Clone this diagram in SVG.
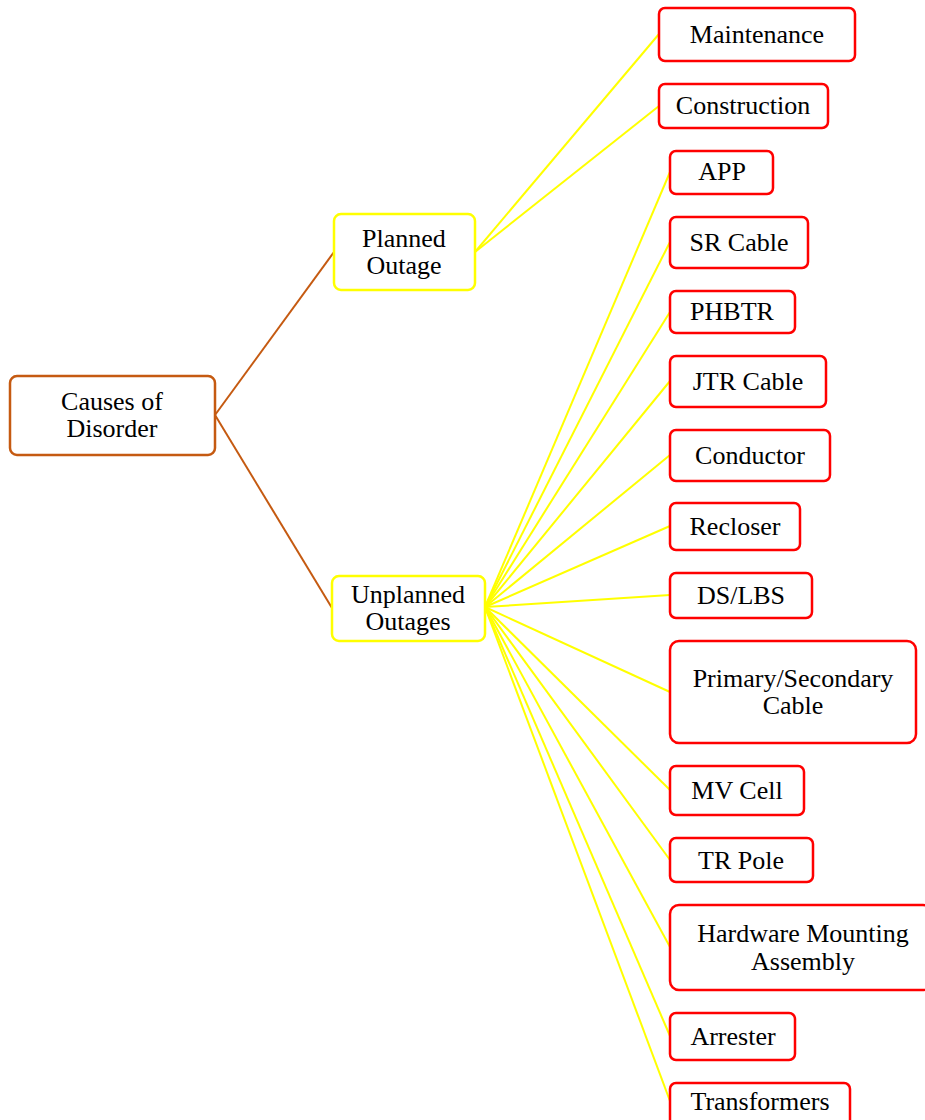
<svg xmlns="http://www.w3.org/2000/svg" width="925" height="1120" viewBox="0 0 925 1120">
<style>
rect{fill:#fff;stroke-width:2.5}
.root{stroke:#c55a11}
.mid{stroke:#ffff00}
.leaf{stroke:#ff0000}
text{font-family:"Liberation Serif","Times New Roman",serif;font-size:26px;fill:#000;text-anchor:middle}
.c1{stroke:#c55a11;stroke-width:2;fill:none}
.c2{stroke:#ffff00;stroke-width:2;fill:none}
</style>
<rect width="925" height="1120" fill="#fff" stroke="none"/>
<g id="connectors">
<line class="c1" x1="215" y1="415" x2="334" y2="252"/>
<line class="c1" x1="215" y1="415" x2="332" y2="608"/>
<line class="c2" x1="475" y1="252" x2="659" y2="34"/>
<line class="c2" x1="475" y1="252" x2="659" y2="106"/>
<line class="c2" x1="485" y1="607" x2="670" y2="172"/>
<line class="c2" x1="485" y1="607" x2="670" y2="242"/>
<line class="c2" x1="485" y1="607" x2="670" y2="312"/>
<line class="c2" x1="485" y1="607" x2="670" y2="381"/>
<line class="c2" x1="485" y1="607" x2="670" y2="455"/>
<line class="c2" x1="485" y1="607" x2="670" y2="526"/>
<line class="c2" x1="485" y1="607" x2="670" y2="595"/>
<line class="c2" x1="485" y1="607" x2="670" y2="692"/>
<line class="c2" x1="485" y1="607" x2="670" y2="790"/>
<line class="c2" x1="485" y1="607" x2="670" y2="860"/>
<line class="c2" x1="485" y1="607" x2="670" y2="947"/>
<line class="c2" x1="485" y1="607" x2="670" y2="1036"/>
<line class="c2" x1="485" y1="607" x2="670" y2="1101"/>
</g>
<g id="root"><rect class="root" x="10" y="376" width="205" height="79" rx="7"/><text x="112" y="410">Causes of</text><text x="112" y="437">Disorder</text></g>
<g id="planned"><rect class="mid" x="334" y="214" width="141" height="76" rx="7"/><text x="404" y="247">Planned</text><text x="404" y="274">Outage</text></g>
<g id="unplanned"><rect class="mid" x="332" y="576" width="153" height="65" rx="7"/><text x="408" y="603">Unplanned</text><text x="408" y="630">Outages</text></g>
<g id="maintenance"><rect class="leaf" x="659" y="8" width="196" height="53" rx="6"/><text x="757" y="43">Maintenance</text></g>
<g id="construction"><rect class="leaf" x="659" y="84" width="169" height="44" rx="6"/><text x="743" y="114">Construction</text></g>
<g id="app"><rect class="leaf" x="670" y="151" width="103" height="43" rx="6"/><text x="722" y="180">APP</text></g>
<g id="srcable"><rect class="leaf" x="670" y="217" width="138" height="51" rx="6"/><text x="739" y="251">SR Cable</text></g>
<g id="phbtr"><rect class="leaf" x="670" y="291" width="125" height="42" rx="6"/><text x="732" y="320">PHBTR</text></g>
<g id="jtrcable"><rect class="leaf" x="670" y="356" width="156" height="51" rx="6"/><text x="748" y="390">JTR Cable</text></g>
<g id="conductor"><rect class="leaf" x="670" y="430" width="160" height="51" rx="6"/><text x="750" y="464">Conductor</text></g>
<g id="recloser"><rect class="leaf" x="670" y="503" width="130" height="47" rx="6"/><text x="735" y="535">Recloser</text></g>
<g id="dslbs"><rect class="leaf" x="670" y="573" width="142" height="45" rx="6"/><text x="741" y="604">DS/LBS</text></g>
<g id="primary"><rect class="leaf" x="670" y="641" width="246" height="102" rx="9"/><text x="793" y="687">Primary/Secondary</text><text x="793" y="714">Cable</text></g>
<g id="mvcell"><rect class="leaf" x="670" y="766" width="134" height="49" rx="6"/><text x="737" y="799">MV Cell</text></g>
<g id="trpole"><rect class="leaf" x="670" y="838" width="143" height="44" rx="6"/><text x="741" y="869">TR Pole</text></g>
<g id="hardware"><rect class="leaf" x="670" y="905" width="262" height="85" rx="9"/><text x="803" y="942">Hardware Mounting</text><text x="803" y="970">Assembly</text></g>
<g id="arrester"><rect class="leaf" x="670" y="1013" width="125" height="47" rx="6"/><text x="733" y="1045">Arrester</text></g>
<g id="transformers"><rect class="leaf" x="670" y="1083" width="180" height="45" rx="6"/><text x="760" y="1110">Transformers</text></g>
</svg>
